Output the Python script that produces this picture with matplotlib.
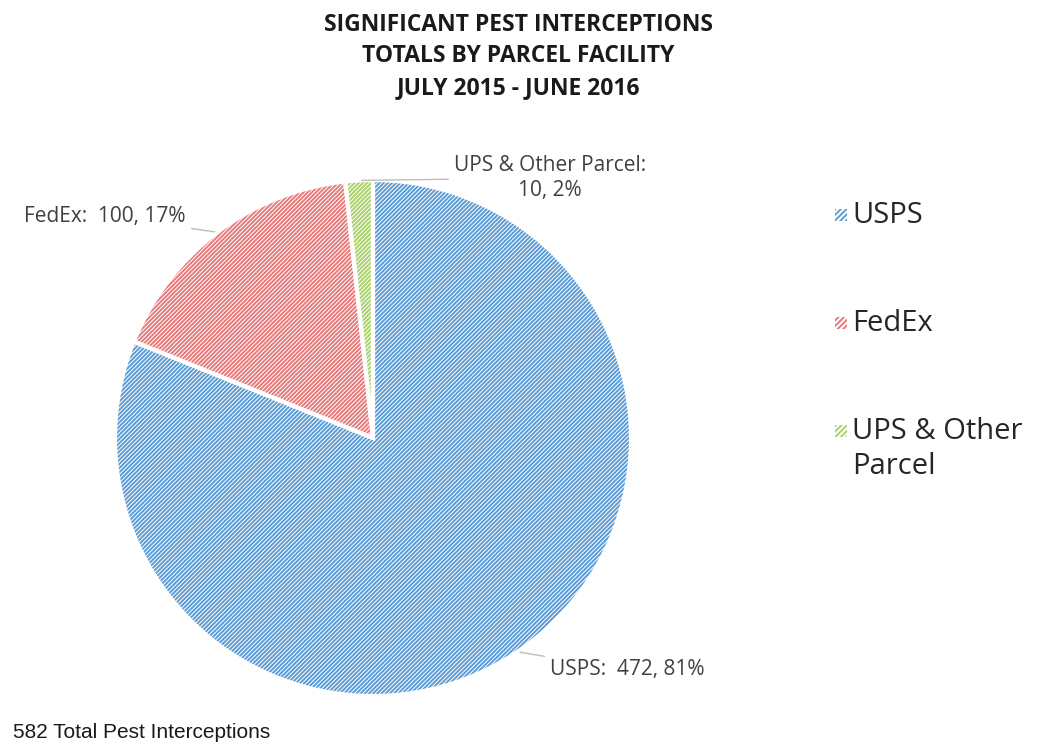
import matplotlib
matplotlib.use("Agg")
import matplotlib.pyplot as plt
from matplotlib.patches import Rectangle
import numpy as np

categories = ["USPS", "FedEx", "UPS & Other Parcel"]
values = [472, 100, 10]
percents = ["81%", "17%", "2%"]
legend_labels = ["USPS", "FedEx", "UPS & Other\nParcel"]
title_lines = ["SIGNIFICANT PEST INTERCEPTIONS", "TOTALS BY PARCEL FACILITY", "JULY 2015 - JUNE 2016"]
footer = "582 Total Pest Interceptions"
colors = ["#5B9BD5", "#E8797A", "#A9D16B"]

plt.rcParams['hatch.linewidth'] = 1.4
W, H = 1038, 750
fig = plt.figure(figsize=(W / 100, H / 100), dpi=100)

cx, cy, r = 373, 438, 258
ax = fig.add_axes([(cx - r) / W, (H - cy - r) / H, 2 * r / W, 2 * r / H])

wedges, _ = ax.pie(values, startangle=90, counterclock=False, radius=1,
                   colors=["white"] * 3,
                   wedgeprops=dict(linewidth=0))
for w, c in zip(wedges, colors):
    w.set_hatch("////////")
    w.set_edgecolor(c)
    w.set_linewidth(0)
# white separators
ax.pie(values, startangle=90, counterclock=False, radius=1,
       colors=["none"] * 3,
       wedgeprops=dict(linewidth=3, edgecolor="white", fill=False))
ax.set_xlim(-1, 1)
ax.set_ylim(-1, 1)
ax.axis("off")

lab_font = dict(family=["Open Sans", "DejaVu Sans"], fontsize=15, color="#404040")
leader = dict(arrowstyle="-", color="#BDBDBD", lw=1)

def px(x, y):
    return ((x - cx) / r, (cy - y) / r)

total = sum(values)
cum = 0
mids = []
for v in values:
    mid = 90 - (cum + v / 2) / total * 360
    mids.append(np.deg2rad(mid))
    cum += v

# USPS label
m = mids[0]
ax.annotate(f"{categories[0]}:  {values[0]}, {percents[0]}",
            xy=(np.cos(m), np.sin(m)), xytext=px(550, 670),
            ha="left", va="center", arrowprops=leader, annotation_clip=False, **lab_font)
# FedEx label
m = mids[1]
ax.annotate(f"{categories[1]}:  {values[1]}, {percents[1]}",
            xy=(np.cos(m), np.sin(m)), xytext=px(186, 216),
            ha="right", va="center", arrowprops=leader, annotation_clip=False, **lab_font)
# UPS label
m = mids[2]
ax.annotate(f"{categories[2]}:\n{values[2]}, {percents[2]}",
            xy=(np.cos(m), np.sin(m)), xytext=px(550, 178),
            ha="center", va="center", linespacing=1.3, arrowprops=leader,
            annotation_clip=False, **lab_font)

# Title
ys = [25, 56, 88]
for t, y in zip(title_lines, ys):
    fig.text(518 / W, 1 - y / H, t, ha="center", va="center",
             family=["Open Sans", "DejaVu Sans"], fontweight="bold",
             fontsize=16.5, color="#1a1a1a")

# Legend (manual)
leg_y = [215, 323, 431]
for lab, c, y in zip(legend_labels, colors, leg_y):
    sq = 12
    rect = Rectangle((835 / W, 1 - (y + sq / 2) / H), sq / W, sq / H,
                     transform=fig.transFigure, facecolor="white",
                     edgecolor=c, hatch="//////", linewidth=0)
    fig.patches.append(rect)
    fig.text(852 / W, 1 - (y - 14) / H, lab, ha="left", va="top",
             family=["Open Sans", "DejaVu Sans"], fontsize=21,
             color="#262626", linespacing=1.25)

fig.text(13 / W, 1 - 733 / H, footer, ha="left", va="center",
         family=["Liberation Sans", "DejaVu Sans"], fontsize=15, color="#1a1a1a")

fig.savefig("out.png", dpi=100, facecolor="white")
